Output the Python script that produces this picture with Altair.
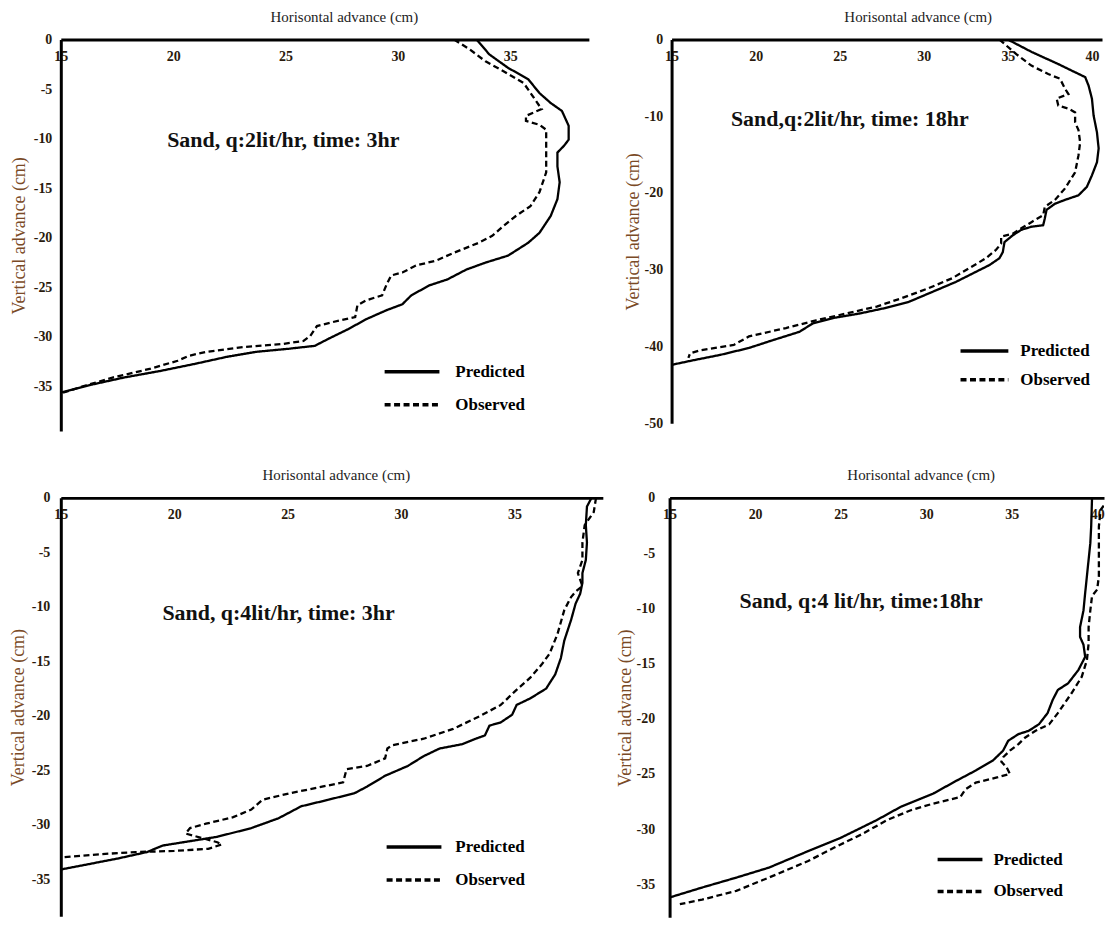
import altair as alt
import pandas as pd

# ---------------- data ----------------
p1_pred_x = [33.5, 34.07, 34.9, 35.8, 36.3, 36.8, 37.3, 37.6, 37.6, 37.4, 37.1, 37.1, 37.2, 37.1, 36.8, 36.3, 35.8, 34.9, 33.9, 33.05, 32.2, 31.4, 30.6, 30.2, 29.5, 28.6, 27.8, 26.9, 26.3, 25.1, 23.7, 22.4, 21.0, 19.5, 17.8, 16.4, 15.0]
p1_pred_y = [0, -1.5, -2.85, -4.0, -5.4, -6.4, -7.2, -8.7, -10.1, -10.7, -11.4, -12.8, -14.4, -16.1, -17.8, -19.5, -20.5, -21.8, -22.5, -23.2, -24.2, -24.8, -25.8, -26.7, -27.3, -28.2, -29.2, -30.2, -30.9, -31.2, -31.5, -32.0, -32.7, -33.4, -34.1, -34.8, -35.6]
p1_obs_x = [32.5, 33.2, 33.9, 34.7, 35.6, 36.0, 36.3, 36.4, 35.7, 35.7, 36.3, 36.6, 36.6, 36.6, 36.6, 36.3, 35.9, 35.25, 34.7, 34.2, 33.6, 32.5, 31.7, 30.8, 30.2, 29.7, 29.5, 29.3, 28.6, 28.2, 28.1, 27.1, 26.4, 26.1, 25.8, 24.9, 23.2, 21.5, 20.7, 20.2, 19.0, 17.3, 16.1, 15.0]
p1_obs_y = [0, -1.0, -2.2, -3.2, -4.4, -5.7, -6.7, -7.0, -7.7, -8.2, -8.6, -9.1, -10.7, -12.1, -13.4, -15.4, -16.8, -17.8, -18.8, -19.8, -20.5, -21.5, -22.3, -22.8, -23.5, -23.8, -24.7, -25.8, -26.3, -26.8, -28.0, -28.5, -28.9, -29.9, -30.4, -30.7, -31.0, -31.5, -31.9, -32.4, -33.2, -34.1, -34.9, -35.7]

p2_pred_x = [35.0, 36.4, 38.0, 39.6, 39.8, 40.0, 40.1, 40.3, 40.4, 40.3, 40.0, 39.7, 39.2, 38.4, 37.8, 37.3, 37.2, 37.1, 36.4, 35.8, 35.3, 34.8, 34.7, 34.5, 33.9, 32.9, 31.9, 30.5, 29.1, 27.7, 26.2, 24.6, 23.4, 22.6, 21.0, 19.6, 17.9, 16.3, 15.0]
p2_pred_y = [0, -1.6, -3.2, -4.9, -6.0, -7.7, -9.9, -12.1, -14.2, -16.0, -17.7, -19.2, -20.3, -20.9, -21.4, -22.2, -23.3, -24.2, -24.4, -24.8, -25.5, -26.4, -27.7, -28.5, -29.4, -30.5, -31.6, -32.9, -34.2, -35.0, -35.7, -36.3, -37.0, -38.1, -39.2, -40.2, -41.1, -41.8, -42.4]
p2_obs_x = [34.5, 35.5, 36.4, 37.4, 38.1, 38.4, 38.6, 37.9, 38.0, 38.6, 39.0, 39.0, 39.2, 39.3, 39.2, 39.0, 38.4, 37.8, 37.2, 37.1, 36.4, 35.8, 35.3, 34.6, 34.6, 34.3, 33.7, 32.7, 31.7, 30.3, 28.7, 27.2, 25.4, 23.6, 21.8, 19.6, 18.7, 16.7, 16.1, 16.0]
p2_obs_y = [0, -1.9, -3.4, -4.5, -5.1, -6.4, -7.1, -7.7, -8.6, -9.0, -9.5, -10.8, -11.8, -13.4, -15.1, -17.3, -19.4, -20.9, -21.8, -22.9, -23.8, -24.6, -25.3, -25.7, -26.6, -27.4, -28.5, -29.8, -31.1, -32.4, -33.7, -34.8, -35.7, -36.6, -37.6, -38.7, -39.8, -40.5, -40.9, -41.5]

p3_pred_x = [38.4, 38.2, 38.15, 38.2, 38.15, 38.0, 38.0, 37.9, 37.7, 37.5, 37.2, 37.05, 36.8, 36.4, 35.7, 35.1, 34.9, 34.4, 33.9, 33.7, 33.3, 32.7, 31.7, 31.0, 30.3, 29.3, 28.5, 27.95, 26.8, 25.6, 24.6, 23.4, 21.9, 20.4, 19.5, 18.8, 17.5, 15.0]
p3_pred_y = [0, -0.8, -2.5, -4.1, -5.7, -6.9, -7.8, -8.8, -9.7, -11.2, -13.1, -14.7, -16.2, -17.5, -18.4, -19.0, -19.9, -20.6, -20.9, -21.8, -22.1, -22.6, -23.0, -23.7, -24.6, -25.5, -26.5, -27.1, -27.7, -28.3, -29.4, -30.3, -31.1, -31.6, -31.9, -32.5, -33.1, -34.1]
p3_obs_x = [38.6, 38.5, 38.1, 38.0, 38.0, 37.8, 38.0, 37.7, 37.5, 37.2, 36.9, 36.55, 36.2, 35.7, 35.0, 34.4, 33.5, 32.3, 31.0, 29.6, 29.4, 29.3, 28.5, 27.6, 27.45, 26.3, 25.1, 23.9, 23.4, 22.6, 21.4, 20.7, 20.5, 21.2, 21.9, 22.1, 21.5, 20.0, 18.3, 16.7, 15.0]
p3_obs_y = [0, -1.3, -2.5, -4.1, -5.7, -6.9, -8.1, -8.6, -9.1, -10.3, -12.5, -14.3, -15.3, -16.5, -17.8, -19.0, -20.0, -21.2, -22.1, -22.7, -23.0, -23.9, -24.6, -24.9, -26.1, -26.6, -27.1, -27.7, -28.6, -29.3, -29.9, -30.3, -30.8, -31.2, -31.6, -31.8, -32.2, -32.4, -32.5, -32.7, -33.0]

p4_pred_x = [39.7, 39.65, 39.6, 39.5, 39.4, 39.3, 39.2, 39.0, 39.0, 39.2, 39.3, 38.9, 38.3, 37.7, 37.4, 37.1, 36.6, 36.0, 35.4, 34.8, 34.5, 33.9, 32.9, 31.8, 30.4, 28.5, 27.1, 25.0, 23.1, 20.8, 18.9, 16.9, 15.0]
p4_pred_y = [0, -2.6, -4.1, -5.6, -7.1, -8.6, -10.2, -11.7, -12.6, -13.3, -14.4, -15.6, -16.8, -17.4, -18.3, -19.5, -20.5, -21.1, -21.4, -22.0, -22.9, -23.8, -24.7, -25.6, -26.8, -28.0, -29.2, -30.8, -32.0, -33.5, -34.4, -35.3, -36.2]
p4_obs_x = [40.7, 40.2, 40.1, 40.1, 40.1, 40.0, 39.7, 39.6, 39.5, 39.5, 39.4, 39.1, 38.5, 38.1, 37.7, 37.2, 36.4, 35.8, 35.4, 34.9, 34.5, 34.4, 34.7, 34.9, 34.2, 32.9, 32.3, 32.0, 30.4, 29.1, 27.7, 26.2, 24.6, 23.1, 20.8, 18.9, 16.9, 15.6]
p4_obs_y = [0, -1.1, -2.6, -5.6, -7.1, -8.3, -8.9, -10.2, -11.7, -13.2, -14.7, -16.2, -17.7, -18.6, -19.5, -20.5, -21.1, -21.7, -22.3, -22.9, -23.5, -23.9, -24.4, -25.0, -25.3, -25.8, -26.4, -27.1, -27.7, -28.3, -29.2, -30.5, -31.7, -32.9, -34.4, -35.6, -36.4, -36.8]

series_names = ["Predicted", "Observed"]
panel_titles = ["Sand, q:2lit/hr, time: 3hr", "Sand,q:2lit/hr, time: 18hr",
                "Sand, q:4lit/hr, time: 3hr", "Sand, q:4 lit/hr, time:18hr"]
title_x = [24.9, 25.6, 24.6, 26.2]
title_y = [-10.1, -10.4, -10.6, -9.3]

x_title = "Horisontal  advance (cm)"
y_title = "Vertical  advance (cm)"

SERIF = "Liberation Serif"
BOLDF = "Liberation Serif"


def make_df(px, py, ox, oy):
    rows = []
    for i, (a, b) in enumerate(zip(px, py)):
        rows.append({"x": a, "y": b, "series": "Predicted", "idx": i})
    for i, (a, b) in enumerate(zip(ox, oy)):
        rows.append({"x": a, "y": b, "series": "Observed", "idx": i})
    return pd.DataFrame(rows)


def panel(df, k, xdom, ydom, yticks, w, h, lay):
    xs = alt.Scale(domain=xdom, nice=False, zero=False)
    ys = alt.Scale(domain=ydom, nice=False, zero=False)
    xaxis = alt.Axis(orient="top", values=[15, 20, 25, 30, 35, 40], ticks=False, grid=False,
                     domainColor="black", domainWidth=3, labelPadding=-24,
                     labelFont=BOLDF, labelFontWeight="bold", labelFontSize=14,
                     labelColor="#2a1a0c", labelFlush=False, labelOverlap=False,
                     title=x_title, titleFont=SERIF, titleFontWeight="normal",
                     titleFontSize=15, titleColor="#222222", titleY=-15,
                     titleX=lay["tx"])
    yaxis = alt.Axis(values=yticks, ticks=False, grid=False, domainColor="black",
                     domainWidth=3, labelPadding=lay["lp"], labelFont=BOLDF,
                     labelFontWeight="bold", labelFontSize=14, labelColor="#2a1a0c",
                     labelExpr="toString(datum.value)", labelFlush=False, labelOverlap=False,
                     title=y_title, titleFont=SERIF, titleFontWeight="normal",
                     titleFontSize=18, titleColor="#7a4a26", titlePadding=lay["tp"])
    lines = alt.Chart(df).mark_line(color="black", strokeWidth=2.3, clip=True).encode(
        x=alt.X("x:Q", scale=xs, axis=xaxis),
        y=alt.Y("y:Q", scale=ys, axis=yaxis),
        order="idx:Q",
        strokeDash=alt.StrokeDash(
            "series:N",
            scale=alt.Scale(domain=series_names, range=[[1, 0], [6, 3.5]]),
            legend=alt.Legend(orient="none", legendX=lay["lx"], legendY=lay["ly"], title=None,
                              symbolType="stroke", symbolSize=lay["ls"] ** 2,
                              symbolStrokeWidth=3.5, symbolStrokeColor="black",
                              clipHeight=lay["ch"], rowPadding=2,
                              labelFont=BOLDF, labelFontWeight="bold", labelFontSize=17,
                              labelColor="black", labelOffset=lay["lo"], labelLimit=200),
        ),
    )
    tdf = pd.DataFrame({"x": [title_x[k]], "y": [title_y[k]], "t": [panel_titles[k]]})
    text = alt.Chart(tdf).mark_text(font=BOLDF, fontWeight="bold", fontSize=22,
                                    color="#111111", align="center", baseline="middle").encode(
        x=alt.X("x:Q", scale=xs), y=alt.Y("y:Q", scale=ys), text="t:N")
    return alt.layer(lines, text).properties(
        width=w, height=h, view=alt.ViewBackground(stroke="transparent", strokeWidth=0))


d1 = make_df(p1_pred_x, p1_pred_y, p1_obs_x, p1_obs_y)
d2 = make_df(p2_pred_x, p2_pred_y, p2_obs_x, p2_obs_y)
d3 = make_df(p3_pred_x, p3_pred_y, p3_obs_x, p3_obs_y)
d4 = make_df(p4_pred_x, p4_pred_y, p4_obs_x, p4_obs_y)

ticks40 = [0, -5, -10, -15, -20, -25, -30, -35]
ticks50 = [0, -5, -10, -15, -20, -25, -30, -35, -40, -45, -50]

c1 = panel(d1, 0, [15, 38.5], [-39.5, 0], ticks40, 530, 393,
           dict(tx=284, lp=9, tp=5, lx=323, ly=318, ls=55, ch=31, lo=14))
c2 = panel(d2, 1, [15, 40.6], [-50, 0], ticks50, 432, 385,
           dict(tx=247, lp=9, tp=2, lx=288, ly=299, ls=48, ch=27, lo=10))
c3 = panel(d3, 2, [15, 38.9], [-38.4, 0], ticks40, 544, 420,
           dict(tx=276, lp=11, tp=4, lx=325, ly=335, ls=55, ch=31, lo=12))
c4 = panel(d4, 3, [15, 40.4], [-38, 0], ticks40, 436, 421,
           dict(tx=252, lp=15, tp=2, lx=267, ly=348, ls=45, ch=30, lo=9))

row1 = alt.hconcat(c1, c2, spacing=35).resolve_scale(strokeDash="independent")
row2 = alt.hconcat(c3, c4, spacing=13).resolve_scale(strokeDash="independent")
chart = alt.vconcat(row1, row2, spacing=37).resolve_scale(strokeDash="independent").properties(
    padding={"left": 1, "top": 0, "right": 0, "bottom": 0}
).configure_view(stroke="transparent", strokeWidth=0).configure(background="white")

chart.save("out.html", embed_options={"renderer": "svg", "actions": False})
